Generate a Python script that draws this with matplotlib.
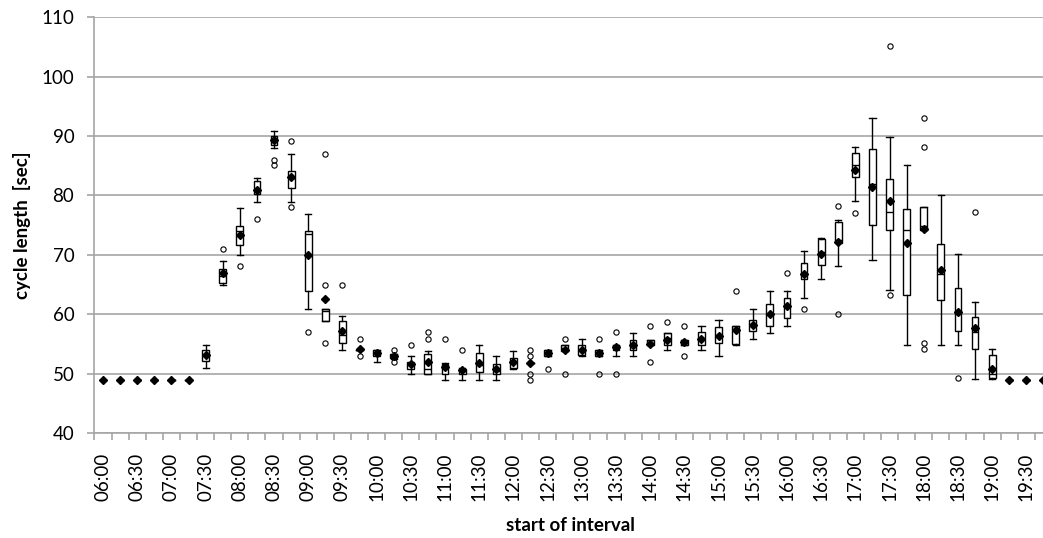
import matplotlib
matplotlib.use("Agg")
import matplotlib.pyplot as plt
import numpy as np

plt.rcParams['font.family'] = ['Lato', 'DejaVu Sans']

# 15 minute intervals, 06:00 .. 19:45
times = ["%02d:%02d" % (h, m) for h in range(6, 20) for m in (0, 15, 30, 45)]

# box statistics per interval (sec)
whislo = [49, 49, 49, 49, 49, 49, 50.9, 64.9, 69.9, 78.9,
          88.0, 78.9, 60.9, 58.9, 53.9, 54.0, 51.9, 52.5, 50.0, 50.0,
          48.9, 48.9, 48.9, 48.9, 50.7, 51.8, 52.9, 53.8, 52.9, 52.9,
          52.9, 52.9, 54.8, 53.9, 54.8, 53.9, 53.0, 54.8, 55.9, 56.9,
          58.0, 62.8, 66.0, 68.1, 79.0, 69.1, 64.1, 54.9, 74.1, 54.9,
          54.9, 49.05, 49.05, 49, 49, 49]
q1 = [49, 49, 49, 49, 49, 49, 52.2, 65.2, 71.6, 80.3,
      88.5, 81.3, 63.9, 58.9, 55.2, 54.0, 52.9, 52.7, 50.8, 50.0,
      50.0, 50.0, 50.3, 50.0, 51.0, 51.8, 52.9, 53.8, 53.1, 52.9,
      53.9, 54.0, 54.8, 54.9, 54.8, 54.9, 55.2, 55.0, 57.1, 58.0,
      59.3, 65.9, 68.3, 72.0, 83.1, 75.1, 74.1, 63.2, 74.1, 62.4,
      57.2, 54.2, 49.2, 49, 49, 49]
med = [49, 49, 49, 49, 49, 49, 53.0, 66.5, 74.0, 81.0,
       89.0, 83.0, 73.5, 60.5, 56.5, 54.0, 53.5, 53.0, 51.5, 50.8,
       51.0, 50.5, 51.5, 50.5, 52.0, 51.8, 53.5, 54.3, 54.0, 53.5,
       54.5, 54.5, 55.2, 56.0, 55.3, 56.0, 56.5, 57.5, 58.0, 60.0,
       61.5, 67.0, 70.5, 72.5, 85.2, 81.9, 77.2, 74.1, 74.8, 66.7,
       60.5, 57.0, 50.0, 49, 49, 49]
q3 = [49, 49, 49, 49, 49, 49, 54.0, 67.6, 74.9, 82.5,
      90.0, 84.1, 74.0, 60.8, 58.8, 54.0, 53.9, 53.3, 52.0, 53.3,
      51.7, 50.8, 53.4, 51.7, 52.7, 51.8, 54.0, 54.8, 54.8, 54.0,
      54.9, 55.7, 55.7, 56.8, 55.7, 57.0, 57.8, 58.0, 59.0, 61.7,
      62.8, 68.6, 72.6, 75.5, 87.1, 87.8, 82.8, 77.8, 78.0, 71.8,
      64.5, 59.6, 53.1, 49, 49, 49]
whishi = [49, 49, 49, 49, 49, 49, 54.8, 69.0, 77.9, 82.9,
          90.8, 86.9, 76.9, 60.8, 59.7, 54.0, 54.0, 53.3, 53.0, 53.8,
          51.85, 51.0, 54.8, 52.9, 53.8, 51.8, 54.0, 54.8, 55.9, 54.0,
          54.9, 56.8, 55.7, 56.8, 55.7, 58.0, 59.0, 58.0, 60.9, 63.9,
          63.9, 70.7, 72.9, 75.9, 88.1, 93.0, 89.9, 85.1, 78.0, 80.0,
          70.1, 62.0, 54.1, 49, 49, 49]
means = [49, 49, 49, 49, 49, 49, 53.2, 67.0, 73.4, 80.9,
         89.3, 83.1, 69.9, 62.5, 57.2, 54.1, 53.5, 53.0, 51.6, 52.0,
         51.1, 50.6, 51.8, 50.7, 52.0, 51.8, 53.5, 54.0, 53.9, 53.5,
         54.5, 54.8, 55.0, 55.7, 55.3, 55.9, 56.4, 57.4, 58.2, 60.0,
         61.4, 66.8, 70.2, 72.1, 84.3, 81.5, 79.0, 72.0, 74.4, 67.5,
         60.3, 57.7, 50.8, 49, 49, 49]
outliers = [[], [], [], [], [], [], [], [71.0], [68.1], [76.1],
            [86.0, 85.1], [89.1, 78.05], [57.0], [87.0, 65.0, 55.1], [65.0],
            [55.9, 52.9], [], [54.0, 51.9], [54.9], [57.0, 55.9],
            [55.9], [54.0], [], [], [], [54.0, 52.9, 50.0, 49.0],
            [50.8], [55.9, 50.0], [], [55.9, 50.0],
            [57.0, 50.0], [], [58.0, 52.0], [58.7], [58.0, 52.9],
            [], [], [63.9], [], [],
            [66.9], [60.9], [], [78.2, 60.1], [77.1],
            [], [105.2, 63.2], [], [93.1, 88.1, 55.2, 54.2], [],
            [49.2], [77.2], [], [], [], []]

stats = []
for i in range(len(times)):
    stats.append(dict(whislo=whislo[i], q1=q1[i], med=med[i], q3=q3[i],
                      whishi=whishi[i], mean=means[i], fliers=outliers[i]))

fig = plt.figure(figsize=(10.43, 5.38), dpi=100)
ax = fig.add_axes([0.0906, 0.1952, 0.918, 0.7726])

pos = np.arange(len(times))
ax.bxp(stats, positions=pos, widths=0.4, showmeans=True, patch_artist=True,
       capwidths=0.36,
       boxprops=dict(facecolor='white', edgecolor='black', linewidth=1.0),
       medianprops=dict(color='black', linewidth=1.0),
       whiskerprops=dict(color='black', linewidth=1.0),
       capprops=dict(color='black', linewidth=1.0),
       meanprops=dict(marker='D', markerfacecolor='black', markeredgecolor='black',
                      markersize=4.2),
       flierprops=dict(marker='o', markerfacecolor='none', markeredgecolor='black',
                       markersize=3.8, markeredgewidth=0.8))

grey = '#a6a6a6'
ax.set_xlim(-0.5, len(times) - 0.5)
ax.set_ylim(40, 110)
ax.set_yticks(np.arange(40, 111, 10))
ax.yaxis.grid(True, color=grey, linewidth=1.2)
ax.set_axisbelow(True)

ax.set_xticks(pos[::2])
ax.set_xticklabels(times[::2], rotation=90)
ax.set_xticks(np.arange(-0.5, len(times), 1), minor=True)
ax.tick_params(axis='x', which='major', length=0, pad=14, labelsize=13.5)
ax.tick_params(axis='x', which='minor', length=5, color=grey, width=1.2)
ax.tick_params(axis='y', length=5, color=grey, width=1.2, pad=9.5, labelsize=13.5)

for s in ['top', 'right']:
    ax.spines[s].set_visible(False)
for s in ['left', 'bottom']:
    ax.spines[s].set_color(grey)
    ax.spines[s].set_linewidth(1.2)

ax.set_xlabel('start of interval', fontweight='bold', fontsize=13.5)
ax.set_ylabel('cycle length  [sec]', fontweight='bold', fontsize=13.5)
ax.xaxis.set_label_coords(0.497, -0.202)
ax.yaxis.set_label_coords(-0.066, 0.5)

fig.savefig('out.png', dpi=100)
